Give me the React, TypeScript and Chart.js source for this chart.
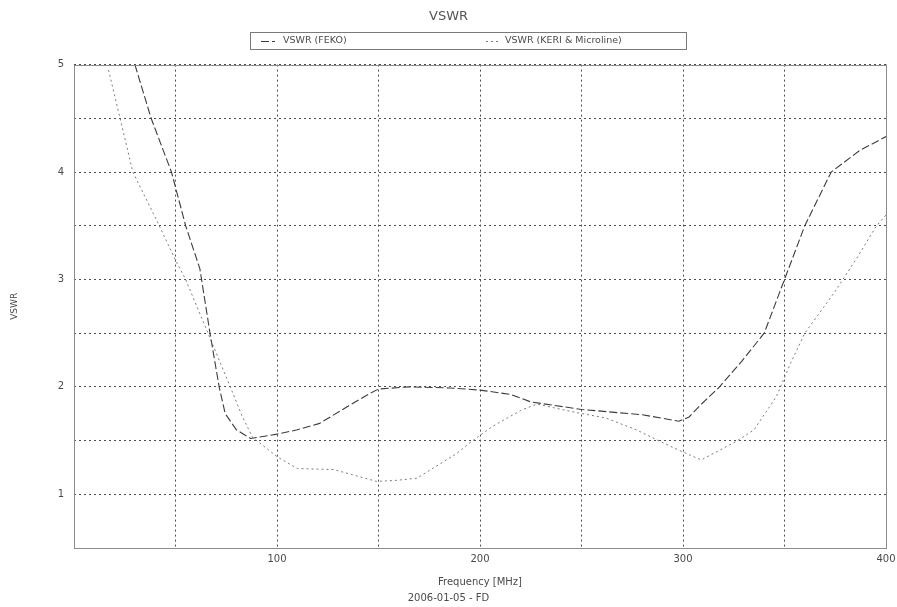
import React, { useEffect, useRef } from "react";
import { Chart, registerables } from "chart.js";

Chart.register(...registerables);

// ---- data ----
const FEKO_FREQ = [30, 38, 48, 55, 62, 67, 71.5, 74.5, 80, 87, 100, 110, 121, 135, 144, 150, 165, 185, 200, 215, 225, 250, 280, 298, 303, 308, 318, 329, 340, 350, 360, 373, 387, 400];
const FEKO_VSWR = [5.0, 4.5, 4.0, 3.5, 3.1, 2.5, 2.0, 1.75, 1.6, 1.52, 1.56, 1.6, 1.66, 1.82, 1.92, 1.98, 2.0, 1.99, 1.97, 1.93, 1.86, 1.79, 1.74, 1.68, 1.72, 1.82, 2.0, 2.24, 2.5, 3.0, 3.5, 4.0, 4.2, 4.33];

const KERI_FREQ = [17, 22.7, 29, 42, 50, 55, 66, 77, 83, 88, 100, 110, 128, 149, 159, 169, 188.5, 195, 206, 220, 228, 245, 262, 277, 289, 298, 309, 317, 326, 335, 346, 353, 360, 375, 386, 395, 400];
const KERI_VSWR = [4.95, 4.5, 4.0, 3.5, 3.18, 3.0, 2.5, 2.0, 1.72, 1.53, 1.35, 1.24, 1.23, 1.12, 1.13, 1.15, 1.38, 1.48, 1.63, 1.78, 1.84, 1.77, 1.71, 1.6, 1.49, 1.41, 1.32, 1.4, 1.49, 1.6, 1.91, 2.22, 2.5, 2.89, 3.21, 3.49, 3.6];

const SERIES_LABELS = ["VSWR (FEKO)", "VSWR (KERI & Microline)"];
const X_TICK_LABELS = [100, 200, 300, 400];
const Y_TICK_LABELS = [1, 2, 3, 4, 5];

const CHART_TITLE = "VSWR";
const X_TITLE = "Frequency [MHz]";
const Y_TITLE = "VSWR";
const FOOTER = "2006-01-05 - FD";

const FONT = "'DejaVu Sans', sans-serif";
const TEXT_COLOR = "#4a4a4a";

const frameAndLegend = {
  id: "frameAndLegend",
  afterDatasetsDraw(chart: any) {
    const { ctx, chartArea: a } = chart;
    ctx.save();
    ctx.setLineDash([]);
    ctx.strokeStyle = "#8c8c8c";
    ctx.lineWidth = 1;
    ctx.strokeRect(Math.round(a.left) + 0.5, Math.round(a.top) + 0.5, Math.round(a.right - a.left), Math.round(a.bottom - a.top));

    // boxed legend
    const boxL = 250, boxR = 686, boxT = 32, boxB = 49;
    ctx.strokeStyle = "#7a7a7a";
    ctx.strokeRect(boxL + 0.5, boxT + 0.5, boxR - boxL, boxB - boxT);
    const symX = [261, 486];
    const textX = [283, 505];
    const midY = (boxT + boxB) / 2 + 0.5;
    chart.data.datasets.forEach((ds: any, i: number) => {
      ctx.save();
      ctx.strokeStyle = ds.borderColor;
      ctx.lineWidth = ds.borderWidth;
      ctx.setLineDash(ds.borderDash || []);
      ctx.beginPath();
      ctx.moveTo(symX[i], Math.round(midY) + 0.5);
      ctx.lineTo(symX[i] + 14, Math.round(midY) + 0.5);
      ctx.stroke();
      ctx.restore();
      ctx.fillStyle = TEXT_COLOR;
      ctx.font = `9.5px ${FONT}`;
      ctx.textBaseline = "middle";
      ctx.textAlign = "left";
      ctx.fillText(ds.label, textX[i], midY);
    });
    ctx.restore();
  },
};

export default function App() {
  const ref = useRef<HTMLCanvasElement | null>(null);

  useEffect(() => {
    if (!ref.current) return;
    const fekoPts = FEKO_FREQ.map((f, i) => ({ x: f, y: FEKO_VSWR[i] }));
    const keriPts = KERI_FREQ.map((f, i) => ({ x: f, y: KERI_VSWR[i] }));

    const chart = new Chart(ref.current, {
      type: "line",
      data: {
        datasets: [
          {
            label: SERIES_LABELS[0],
            data: fekoPts,
            borderColor: "#3c3c3c",
            borderWidth: 1.1,
            borderDash: [8, 3],
            pointRadius: 0,
            tension: 0,
            fill: false,
          },
          {
            label: SERIES_LABELS[1],
            data: keriPts,
            borderColor: "#7c7c7c",
            borderWidth: 1,
            borderDash: [2, 3],
            pointRadius: 0,
            tension: 0,
            fill: false,
          },
        ],
      },
      options: {
        responsive: false,
        animation: false,
        layout: { padding: { left: 0, right: 0, top: 0, bottom: 0 } },
        plugins: {
          legend: { display: false },
          tooltip: { enabled: false },
          title: {
            display: true,
            text: CHART_TITLE,
            color: "#555",
            font: { family: FONT, size: 13, weight: "normal" },
            padding: { top: 9, bottom: 40 },
          },
          subtitle: {
            display: true,
            position: "bottom",
            text: FOOTER,
            color: TEXT_COLOR,
            font: { family: FONT, size: 10, weight: "normal" },
            padding: { top: 0, bottom: 3 },
          },
        },
        scales: {
          x: {
            type: "linear",
            min: 0,
            max: 400,
            ticks: {
              stepSize: 50,
              color: TEXT_COLOR,
              font: { family: FONT, size: 10 },
              padding: 5,
              maxRotation: 0,
              callback: (v: any) => (X_TICK_LABELS.includes(Number(v)) ? String(v) : ""),
            },
            grid: {
              color: "#4d4d4d",
              lineWidth: 1,
              drawTicks: false,
            },
            border: { display: false, dash: [2, 3] },
            title: {
              display: true,
              text: X_TITLE,
              color: TEXT_COLOR,
              font: { family: FONT, size: 10 },
              padding: { top: 0, bottom: 4 },
            },
            afterFit: (s: any) => {
              s.height = 44;
              s.paddingRight = 11;
            },
          },
          y: {
            type: "linear",
            min: 0.5,
            max: 5,
            ticks: {
              stepSize: 0.5,
              color: TEXT_COLOR,
              font: { family: FONT, size: 10 },
              padding: 10,
              callback: (v: any) => (Y_TICK_LABELS.includes(Number(v)) ? String(v) : ""),
            },
            grid: {
              color: "#4d4d4d",
              lineWidth: 1,
              drawTicks: false,
            },
            border: { display: false, dash: [2, 3] },
            title: {
              display: true,
              text: Y_TITLE,
              color: TEXT_COLOR,
              font: { family: FONT, size: 9 },
              padding: { top: 9, bottom: 0 },
            },
            afterFit: (s: any) => {
              s.width = 74;
            },
          },
        },
      },
      plugins: [frameAndLegend],
    });
    return () => chart.destroy();
  }, []);

  return (
    <div style={{ position: "absolute", left: 0, top: 0, width: 897, height: 607, background: "#fff" }}>
      <canvas ref={ref} width={897} height={607} />
    </div>
  );
}
